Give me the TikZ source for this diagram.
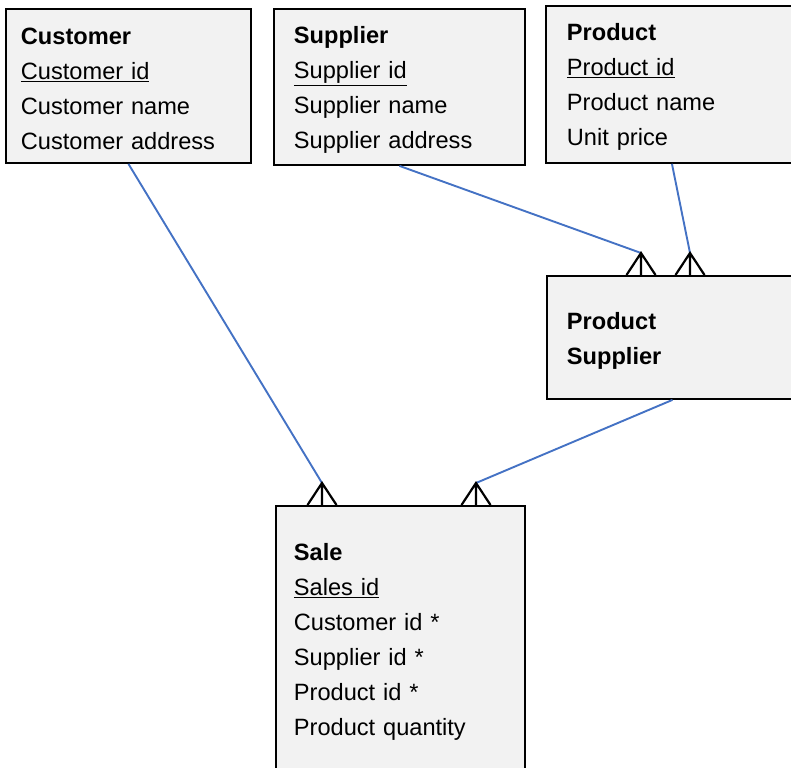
\documentclass[tikz,border=0pt]{standalone}
\usepackage{fontspec}
\setmainfont{Liberation Sans}
\usetikzlibrary{calc}
\definecolor{entfill}{RGB}{242,242,242}
\definecolor{relblue}{RGB}{68,114,196}

% many-side end of a relationship: three prongs meeting above the box edge
\tikzset{crowfoot/.pic={
  \draw[line width=2.2pt, black] (-14.5,0) -- (0,-22) -- (14.5,0) (0,-22) -- (0,0);
}}

\begin{document}
\begin{tikzpicture}[x=1pt, y=-1pt,
  entity/.style={rectangle, draw=black, line width=1.9pt, fill=entfill,
                 anchor=north west, align=left, inner ysep=0pt,
                 font=\fontsize{23.6}{35}\selectfont,
                 execute at begin node={\rule{0pt}{23pt}}},
  rel/.style={draw=relblue, line width=1.9pt}
]
\useasboundingbox (0,0) rectangle (791,767);
\clip (0,0) rectangle (791,767);

% --- Entities ---
\node[entity, inner xsep=15pt, text width=215pt, minimum height=154pt] (customer) at (5,8) {%
\textbf{Customer}\\\underline{Customer id}\\Customer name\\Customer address};

\node[entity, inner xsep=20pt, text width=211pt, minimum height=156pt] (supplier) at (273,8) {%
\textbf{Supplier}\\\underline{Supplier id}\\Supplier name\\Supplier address};

\node[entity, inner xsep=21pt, text width=210pt, minimum height=157pt] (product) at (545,5) {%
\textbf{Product}\\\underline{Product id}\\Product name\\Unit price};

\node[entity, inner xsep=20pt, text width=211pt, minimum height=123pt] (prodsup) at (546,275) {%
\textbf{Product}\\\textbf{Supplier}};

\node[entity, inner xsep=18pt, text width=213pt, minimum height=266pt] (sale) at (275,505) {%
\textbf{Sale}\\\underline{Sales id}\\Customer id *\\Supplier id *\\Product id *\\Product quantity};

% --- Crow's foot ends ---
\coordinate (fsup)  at ($(prodsup.north west)+(95,0)$);
\coordinate (fprod) at ($(prodsup.north west)+(144,0)$);
\coordinate (fcust) at ($(sale.north west)+(47,0)$);
\coordinate (fps)   at ($(sale.north west)+(201,0)$);

% --- Relationships ---
\draw[rel] (supplier.south) -- ($(fsup)+(0,-22)$);
\draw[rel] (product.south)  -- ($(fprod)+(0,-22)$);
\draw[rel] (customer.south) -- ($(fcust)+(0,-22)$);
\draw[rel] (prodsup.south)  -- ($(fps)+(0,-22)$);

\pic at (fsup)  {crowfoot};
\pic at (fprod) {crowfoot};
\pic at (fcust) {crowfoot};
\pic at (fps)   {crowfoot};

\end{tikzpicture}
\end{document}
